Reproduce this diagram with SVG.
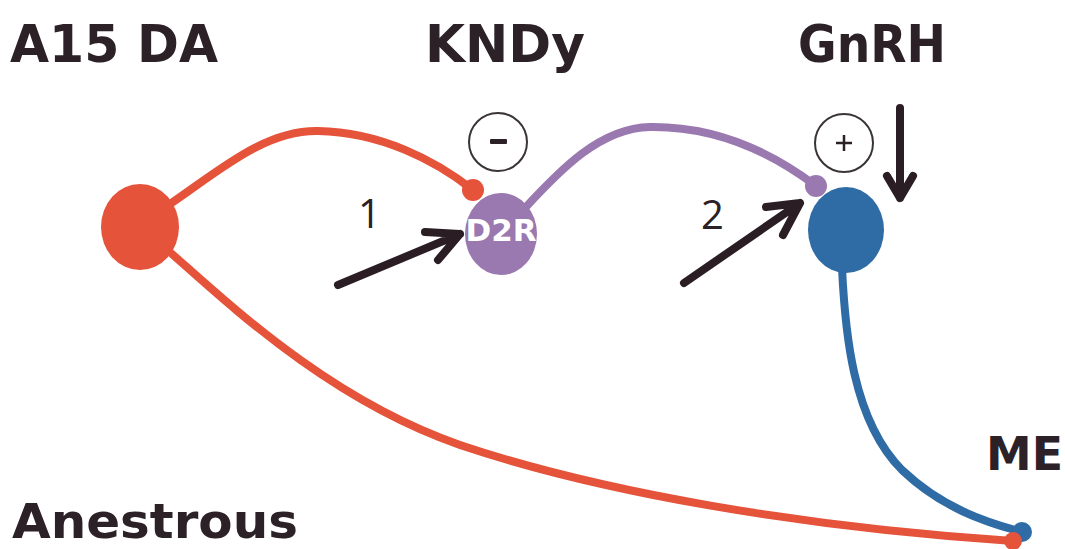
<svg xmlns="http://www.w3.org/2000/svg" width="1065" height="549" viewBox="0 0 1065 549">
  <style>
    .title { font-family: "DejaVu Sans", "Liberation Sans", sans-serif; font-weight: bold; fill: #2b2126; }
    .num { font-family: "Open Sans", "Liberation Sans", sans-serif; font-size: 40px; fill: #2b2126; }
    .red { stroke: #e5533b; }
    .purple { stroke: #9a78b0; }
    .blue { stroke: #2f6ca5; }
    .wire { fill: none; stroke-width: 8; stroke-linecap: round; }
    .arrow { fill: none; stroke: #2a1e24; stroke-width: 8; stroke-linecap: round; stroke-linejoin: round; }
    .sign { fill: #ffffff; stroke: #3a3436; stroke-width: 2; }
  </style>

  <rect width="1065" height="549" fill="#ffffff"/>

  <!-- headings -->
  <g id="labels">
    <text class="title" x="10" y="62" font-size="52" textLength="208" lengthAdjust="spacingAndGlyphs">A15 DA</text>
    <text class="title" x="425" y="62" font-size="52" textLength="160" lengthAdjust="spacingAndGlyphs">KNDy</text>
    <text class="title" x="798" y="62" font-size="52" textLength="148" lengthAdjust="spacingAndGlyphs">GnRH</text>
    <text class="title" x="12" y="538" font-size="48" textLength="286" lengthAdjust="spacingAndGlyphs">Anestrous</text>
    <text class="title" x="986" y="470" font-size="47" textLength="77" lengthAdjust="spacingAndGlyphs">ME</text>
  </g>

  <!-- projections between the cell groups -->
  <g id="connectors">
    <path class="wire red" d="M170,204 C220,170 265,130 318,131 C380,132 435,160 473,190"/>
    <path class="wire red" d="M172,254 C230,305 330,400 460,445 C600,492 800,527 1013,541"/>
    <path class="wire purple" d="M525,208 C560,170 600,128 650,127 C720,126 775,155 816,186"/>
    <path class="wire blue" d="M842,268 C845,330 852,420 902,470 C942,508 985,522 1022,532"/>
    <circle cx="473" cy="190" r="11" fill="#e5533b"/>
    <circle cx="816" cy="186" r="11" fill="#9a78b0"/>
    <circle cx="1022" cy="532" r="10" fill="#2f6ca5"/>
    <circle cx="1013" cy="541" r="9" fill="#e5533b"/>

    <!-- input arrows -->
    <path class="arrow" d="M338,285 L460,234 M425,232 L460,234 L438,260"/>
    <path class="arrow" d="M684,283 L800,203 M766,207 L800,203 L783,235"/>
    <path class="arrow" d="M900,108 L900,198 M887,176 L900,198 L913,176"/>
  </g>

  <g id="num-1"><text class="num" x="358" y="228">1</text></g>
  <g id="num-2"><text class="num" x="701" y="229">2</text></g>

  <!-- A15 dopamine neurons -->
  <g id="a15">
    <ellipse cx="140" cy="227" rx="39" ry="43" fill="#e5533b"/>
  </g>

  <!-- KNDy neurons carrying D2R -->
  <g id="kndy">
    <ellipse cx="501" cy="234" rx="36" ry="41" fill="#9a78b0"/>
    <text x="501" y="241" text-anchor="middle" font-family="DejaVu Sans, sans-serif" font-weight="bold" font-size="31" fill="#ffffff">D2R</text>
  </g>

  <!-- GnRH neurons -->
  <g id="gnrh">
    <ellipse cx="846" cy="230" rx="38" ry="43" fill="#2f6ca5"/>
  </g>

  <!-- inhibitory / stimulatory signs -->
  <g id="sign-minus">
    <circle class="sign" cx="498" cy="142" r="29"/>
    <rect x="490" y="139" width="17" height="5" rx="1" fill="#2b2126"/>
  </g>
  <g id="sign-plus">
    <circle class="sign" cx="844" cy="143" r="29"/>
    <path d="M836,143 H852 M844,135 V151" stroke="#2b2126" stroke-width="2.5" fill="none"/>
  </g>
</svg>
